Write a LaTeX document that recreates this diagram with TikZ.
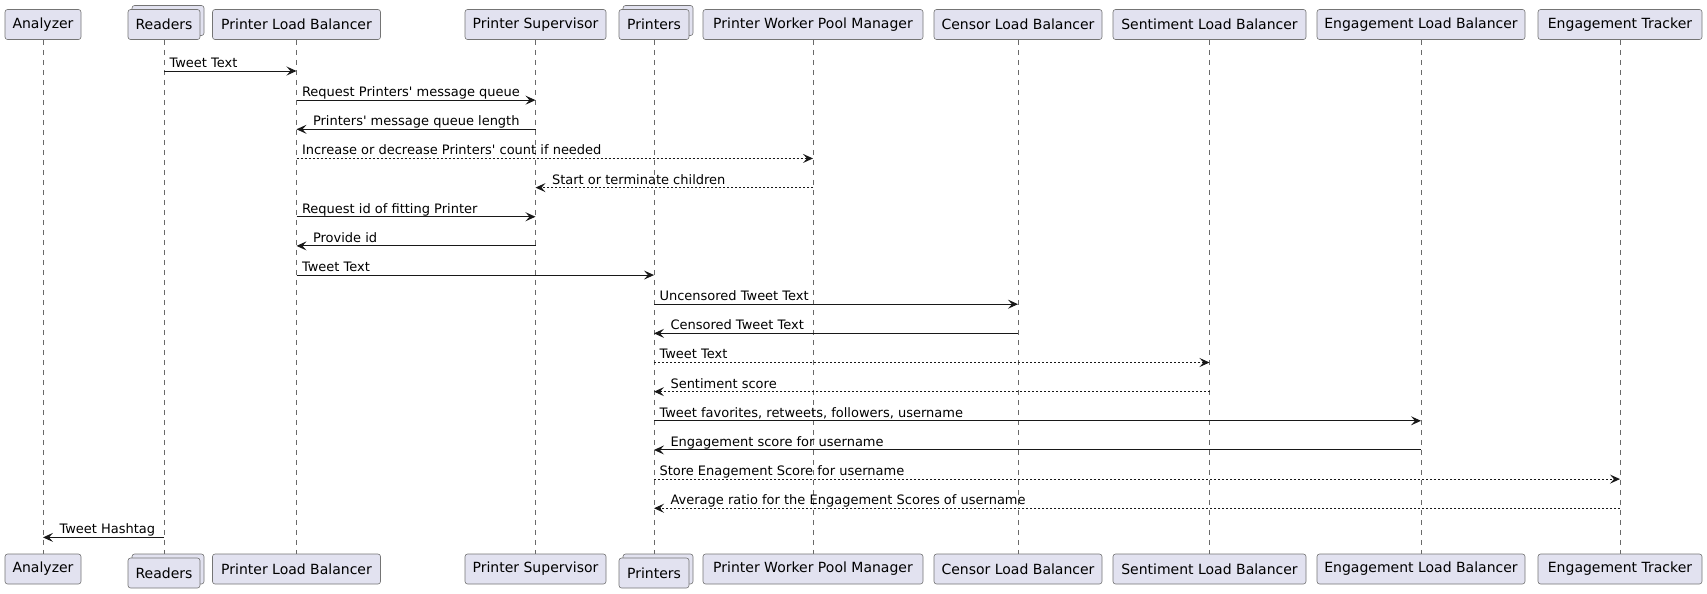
\documentclass[tikz,border=0pt]{standalone}
\usepackage{fontspec}
\newfontfamily\umlfont{DejaVu Sans}
\usetikzlibrary{arrows.meta,shadows,backgrounds}
\definecolor{partfill}{HTML}{E2E2F0}
\definecolor{umlline}{HTML}{181818}

\begin{document}
\begin{tikzpicture}[x=0.75pt,y=-0.75pt,
    part/.style={draw=umlline!60,line width=0.45pt,fill=partfill,rounded corners=1.9pt,minimum height=22.5pt,inner sep=0pt,font=\umlfont\fontsize{10.5pt}{12pt}\selectfont},
    coll/.style={part,copy shadow={shadow xshift=3pt,shadow yshift=3pt}},
    life/.style={draw=umlline!65,line width=0.4pt,dash pattern=on 3.75pt off 3.75pt},
    msg/.style={draw=umlline,line width=0.75pt,-{Stealth[length=7.5pt,width=6.75pt,inset=3pt]}},
    ret/.style={msg,dash pattern=on 1.5pt off 1.5pt},
    lr/.style={pos=0,anchor=base west,inner sep=0pt,xshift=3.75pt,yshift=2.7pt,font=\umlfont\fontsize{9.75pt}{11pt}\selectfont},
    rl/.style={lr,pos=1,xshift=8.25pt}]
    \useasboundingbox (0,0) rectangle (1707,593);
    \node[part,minimum width=57pt] (an) at (43,24.5) {Analyzer};
    \node[coll,minimum width=54pt] (rd) at (164,24.5) {Readers};
    \node[part,minimum width=126pt] (plb) at (296.5,24.5) {Printer Load Balancer};
    \node[part,minimum width=105.75pt] (ps) at (535.5,24.5) {Printer Supervisor};
    \node[coll,minimum width=52.5pt] (pr) at (654,24.5) {Printers};
    \node[part,minimum width=165pt] (pwm) at (813,24.5) {Printer Worker Pool Manager};
    \node[part,minimum width=126pt] (clb) at (1018,24.5) {Censor Load Balancer};
    \node[part,minimum width=144.75pt] (slb) at (1209.5,24.5) {Sentiment Load Balancer};
    \node[part,minimum width=156pt] (elb) at (1421,24.5) {Engagement Load Balancer};
    \node[part,minimum width=123pt] (et) at (1620,24.5) {Engagement Tracker};
    \node[part,minimum width=57pt] (an2) at (43,569) {Analyzer};
    \node[coll,minimum width=54pt] (rd2) at (164,573) {Readers};
    \node[part,minimum width=126pt] (plb2) at (296.5,569) {Printer Load Balancer};
    \node[part,minimum width=105.75pt] (ps2) at (535.5,569) {Printer Supervisor};
    \node[coll,minimum width=52.5pt] (pr2) at (654,573) {Printers};
    \node[part,minimum width=165pt] (pwm2) at (813,569) {Printer Worker Pool Manager};
    \node[part,minimum width=126pt] (clb2) at (1018,569) {Censor Load Balancer};
    \node[part,minimum width=144.75pt] (slb2) at (1209.5,569) {Sentiment Load Balancer};
    \node[part,minimum width=156pt] (elb2) at (1421,569) {Engagement Load Balancer};
    \node[part,minimum width=123pt] (et2) at (1620,569) {Engagement Tracker};
    \begin{scope}[on background layer]
    \path[life]
    (an) edge (an2)
    (rd) edge (rd2)
    (plb) edge (plb2)
    (ps) edge (ps2)
    (pr) edge (pr2)
    (pwm) edge (pwm2)
    (clb) edge (clb2)
    (slb) edge (slb2)
    (elb) edge (elb2)
    (et) edge (et2)
    ;
    \end{scope}
    \path
    (rd |- 0,71) edge[msg] node[lr] {Tweet Text} (plb |- 0,71)
    (plb |- 0,100.15) edge[msg] node[lr] {Request Printers' message queue} (ps |- 0,100.15)
    (ps |- 0,129.3) edge[msg] node[rl] {Printers' message queue length} (plb |- 0,129.3)
    (plb |- 0,158.45) edge[ret] node[lr] {Increase or decrease Printers' count if needed} (pwm |- 0,158.45)
    (pwm |- 0,187.6) edge[ret] node[rl] {Start or terminate children} (ps |- 0,187.6)
    (plb |- 0,216.75) edge[msg] node[lr] {Request id of fitting Printer} (ps |- 0,216.75)
    (ps |- 0,245.9) edge[msg] node[rl] {Provide id} (plb |- 0,245.9)
    (plb |- 0,275.05) edge[msg] node[lr] {Tweet Text} (pr |- 0,275.05)
    (pr |- 0,304.2) edge[msg] node[lr] {Uncensored Tweet Text} (clb |- 0,304.2)
    (clb |- 0,333.35) edge[msg] node[rl] {Censored Tweet Text} (pr |- 0,333.35)
    (pr |- 0,362.5) edge[ret] node[lr] {Tweet Text} (slb |- 0,362.5)
    (slb |- 0,391.65) edge[ret] node[rl] {Sentiment score} (pr |- 0,391.65)
    (pr |- 0,420.8) edge[msg] node[lr] {Tweet favorites, retweets, followers, username} (elb |- 0,420.8)
    (elb |- 0,449.95) edge[msg] node[rl] {Engagement score for username} (pr |- 0,449.95)
    (pr |- 0,479.1) edge[ret] node[lr] {Store Enagement Score for username} (et |- 0,479.1)
    (et |- 0,508.25) edge[ret] node[rl] {Average ratio for the Engagement Scores of username} (pr |- 0,508.25)
    (rd |- 0,537.4) edge[msg] node[rl] {Tweet Hashtag} (an |- 0,537.4)
    ;
  \end{tikzpicture}
\end{document}
